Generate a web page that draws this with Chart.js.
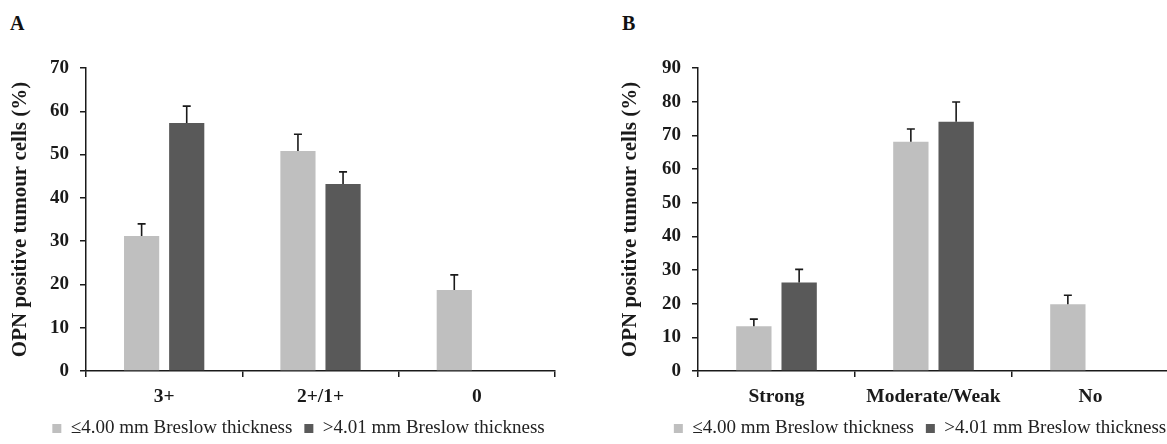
<!DOCTYPE html>
<html>
<head>
<meta charset="utf-8">
<script src="https://cdn.jsdelivr.net/npm/chart.js@4"></script>
<style>
    body   { margin: 0; background: #fff; width: 1167px; height: 444px; overflow: hidden; position: relative; }
    canvas { position: absolute; top: 0; }
    .tag   { position: absolute; top: 13px; font: bold 20px/1 'Liberation Serif', serif; color: #111; }
</style>
</head>
<body>
<div class="tag" style="left:10px">A</div>
<div class="tag" style="left:622px">B</div>
<canvas id="chartA" width="583" height="444" style="left:0"></canvas>
<canvas id="chartB" width="586" height="444" style="left:583px"></canvas>
<script>
const catsA     = ['3+', '2+/1+', '0']
const thinA     = [31.2, 50.8, 18.7]
const thickA    = [57.3, 43.2, null]
const thinErrA  = [2.8, 3.9, 3.5]
const thickErrA = [3.9, 2.8, null]

const catsB     = ['Strong', 'Moderate/Weak', 'No']
const thinB     = [13.3, 68.1, 19.8]
const thickB    = [26.3, 74.0, null]
const thinErrB  = [2.1, 3.8, 2.7]
const thickErrB = [3.9, 5.9, null]

const seriesNames = ['≤4.00 mm Breslow thickness', '>4.01 mm Breslow thickness']
const yTitle      = 'OPN positive tumour cells (%)'

const SERIF = "'Liberation Serif', 'Times New Roman', serif"
const INK   = '#1a1a1a'

// one-sided (upward) error bars, placed with the chart's own scales
const errorBars = {
    id: 'errorBars',
    afterDatasetsDraw(chart) {
        const { ctx, scales: { y } } = chart
        chart.data.datasets.forEach((ds, i) => {
            chart.getDatasetMeta(i).data.forEach((bar, j) => {
                const v = ds.data[j], e = ds.errors[j]
                if (v == null || e == null) return
                const top = y.getPixelForValue(v + e)
                ctx.save()
                ctx.strokeStyle = INK
                ctx.lineWidth   = 1.6
                ctx.beginPath()
                ctx.moveTo(bar.x, bar.y)
                ctx.lineTo(bar.x, top)
                ctx.moveTo(bar.x - 4, top)
                ctx.lineTo(bar.x + 4, top)
                ctx.stroke()
                ctx.restore()
            })
        })
    }
}

// nudge the bottom legend sideways so it sits where the original one does
const legendShift = {
    id: 'legendShift',
    afterLayout(chart, args, opts) {
        chart.legend.left  += opts.dx
        chart.legend.right += opts.dx
    }
}

function makeChart(id, cats, thin, thick, thinErr, thickErr, yMax, axisWidth, titlePad, dx, padRight) {
    return new Chart(document.getElementById(id), {
        type: 'bar',
        data: {
            labels: cats,
            datasets: [
                { label: seriesNames[0], data: thin,  errors: thinErr,  backgroundColor: '#bfbfbf', borderWidth: 0 },
                { label: seriesNames[1], data: thick, errors: thickErr, backgroundColor: '#595959', borderWidth: 0 }
            ]
        },
        plugins: [errorBars, legendShift],
        options: {
            responsive: false,
            animation: false,
            categoryPercentage: 0.577,
            barPercentage: 0.78,
            layout: { padding: { top: 68, right: padRight, bottom: -4, left: 0 } },
            plugins: {
                legend: {
                    position: 'bottom',
                    labels: {
                        boxWidth: 9, boxHeight: 9, padding: 12,
                        color: '#222',
                        font: { family: SERIF, size: 19 }
                    }
                },
                legendShift: { dx },
                tooltip: { enabled: false }
            },
            scales: {
                x: {
                    afterFit(s) { s.height = 36 },
                    grid:   { drawOnChartArea: false, tickLength: 6, color: INK, lineWidth: 1.5 },
                    border: { color: INK, width: 1.5 },
                    ticks:  { padding: 8, color: INK, font: { family: SERIF, size: 19.5, weight: 'bold' } }
                },
                y: {
                    min: 0, max: yMax,
                    afterFit(s) { s.width = axisWidth },
                    grid:   { drawOnChartArea: false, tickLength: 6, color: INK, lineWidth: 1.5 },
                    border: { color: INK, width: 1.5 },
                    ticks:  { stepSize: 10, padding: 11, color: INK, font: { family: SERIF, size: 19, weight: 'bold' } },
                    title:  {
                        display: true, text: yTitle, color: INK,
                        padding: { top: titlePad, bottom: 0 },
                        font: { family: SERIF, size: 21, weight: 'bold' }
                    }
                }
            }
        }
    })
}

makeChart('chartA', catsA, thinA, thickA, thinErrA, thickErrA, 70, 86, 8, 21, 28)
makeChart('chartB', catsB, thinB, thickB, thinErrB, thickErrB, 90, 115, 35, 44, 0)
</script>
</body>
</html>
